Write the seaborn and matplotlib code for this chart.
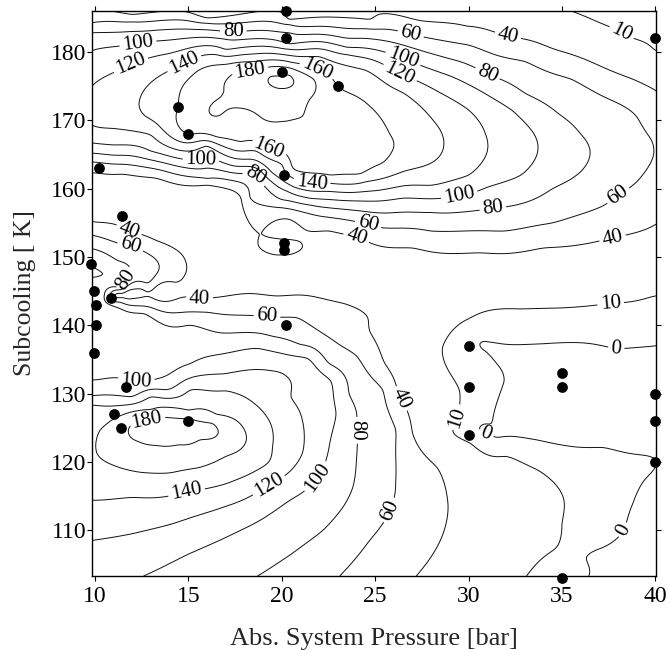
import numpy as np
import pandas as pd
import matplotlib
matplotlib.use("Agg")
import matplotlib.pyplot as plt
import seaborn as sns

# ---------------- measured operating points ----------------
pressure_pts = [20.2, 20.2, 40.0, 20.0, 23.0, 14.45, 15.0, 10.2, 20.1, 11.45,
                20.1, 20.1, 9.8, 9.95, 10.05, 10.85, 10.05, 20.2, 9.95, 30.0,
                35.0, 35.0, 30.0, 11.65, 40.0, 11.0, 40.0, 11.4, 15.0, 30.0,
                40.0, 35.0]
subcool_pts = [186, 182, 182, 177, 175, 172, 168, 163, 162, 156,
               152, 151, 149, 145, 143, 144, 140, 140, 136, 137,
               133, 131, 131, 131, 130, 127, 126, 125, 126, 124,
               120, 103]

# ---------------- iso-value traces (pressure, subcooling) ----------------
upper_200 = [(19.9, 176.5), (19.4, 176.4), (20.4, 176.6)]
upper_180 = [(16.9, 174.3), (17.4, 171.8), (19.0, 170.2), (20.3, 169.9), (21.1, 170.6),
             (21.5, 173.1), (21.7, 176.0), (20.8, 177.3), (19.0, 177.6), (17.7, 177.2)]
upper_160 = [(15.6, 177.4), (14.7, 175.0), (14.45, 172.0), (15.0, 168.0), (16.5, 167.6),
             (17.8, 166.9), (19.3, 165.8), (20.3, 164.8), (20.6, 163.0), (22.6, 162.0),
             (24.2, 162.2), (25.4, 163.8), (26.0, 166.3), (25.8, 167.9), (24.7, 172.1),
             (23.0, 175.0), (21.9, 177.5), (20.5, 178.5), (18.5, 178.6), (17.0, 178.2)]
upper_140 = [(16.5, 179.6), (14.8, 178.4), (13.3, 176.2), (12.4, 173.1), (12.7, 170.6),
             (13.6, 168.7), (16.0, 167.0), (18.6, 165.5), (20.0, 163.5), (20.8, 161.3),
             (22.5, 160.8), (24.5, 161.0), (26.5, 162.5), (28.6, 165.5), (28.1, 170.0),
             (26.5, 174.0), (24.5, 177.3), (22.0, 179.3), (19.0, 179.8)]
upper_120 = [(9.84, 175.0), (11.0, 177.0), (11.9, 178.2), (14.0, 179.8), (17.0, 180.4),
             (20.4, 180.4), (23.5, 179.6), (26.3, 176.8), (28.5, 174.0), (30.0, 171.5),
             (30.9, 168.0), (31.0, 165.5), (30.0, 162.0), (28.0, 160.5), (25.0, 159.7),
             (22.0, 159.6), (20.6, 160.3), (19.5, 162.3), (18.0, 164.3), (16.0, 166.2),
             (13.0, 167.8), (11.0, 168.8), (9.84, 169.3)]
upper_100 = [(9.84, 180.2), (12.3, 181.2), (13.3, 181.6), (16.9, 181.9), (20.4, 181.2),
             (23.5, 180.7), (26.5, 179.1), (29.0, 176.5), (30.5, 174.5), (32.3, 171.5),
             (33.5, 168.0), (33.7, 165.5), (32.8, 162.0), (31.0, 160.2), (29.5, 159.0),
             (26.5, 158.6), (24.0, 158.2), (21.5, 158.6), (20.3, 159.6), (19.0, 162.2),
             (17.5, 163.3), (15.7, 164.2), (13.0, 165.5), (11.0, 166.4), (9.84, 166.7)]
upper_80 = [(9.84, 182.8), (12.0, 183.0), (17.4, 183.0), (20.4, 182.8), (24.0, 182.0),
            (26.5, 181.0), (29.0, 179.0), (31.0, 176.8), (33.0, 174.0), (34.8, 171.0),
            (36.0, 168.0), (36.5, 165.5), (36.0, 162.5), (34.5, 160.0), (31.3, 157.1),
            (28.0, 156.5), (24.0, 156.8), (21.5, 157.6), (20.0, 158.4), (19.2, 160.0),
            (18.6, 161.9), (16.0, 163.0), (13.0, 164.2), (11.0, 164.9), (9.84, 165.2)]
upper_60 = [(9.84, 184.3), (12.0, 184.4), (16.0, 184.2), (20.4, 184.0), (24.5, 183.4),
            (26.9, 182.6), (30.0, 181.0), (33.0, 178.6), (35.5, 176.0), (37.2, 173.5),
            (39.0, 170.5), (39.8, 167.0), (39.9, 165.0), (39.0, 161.0), (38.0, 159.0),
            (37.2, 157.5), (34.5, 155.0), (31.9, 153.8), (28.0, 153.8), (25.3, 154.3),
            (22.0, 156.0), (20.0, 157.2), (18.3, 158.7), (16.0, 161.5), (13.0, 163.0),
            (11.0, 163.6), (9.84, 163.9)]
upper_40 = [(10.8, 186.0), (12.0, 185.5), (16.0, 185.0), (20.4, 184.8), (24.7, 184.8),
            (27.4, 184.6), (29.9, 183.8), (32.1, 182.3), (34.5, 180.5), (37.0, 178.0),
            (38.8, 176.0), (40.03, 174.3)]
band_40 = [(40.03, 154.8), (37.7, 152.8), (34.0, 151.3), (30.6, 150.6), (27.0, 151.3),
           (24.0, 152.9), (22.5, 153.8), (20.4, 155.5), (17.8, 158.7), (16.0, 160.5),
           (13.3, 161.5), (11.5, 162.1), (9.84, 162.3)]
top_10 = [(35.5, 186.0), (37.0, 184.3), (38.5, 182.3), (40.03, 180.2)]
eye_40 = [(18.8, 151.4), (21.1, 151.4), (20.0, 152.6), (20.0, 150.3)]

# left-edge tongue and the low band reaching into it
tongue_40 = [(9.84, 155.2), (11.8, 153.8), (13.3, 152.4), (14.6, 150.5), (14.9, 148.0),
             (14.3, 146.3), (12.5, 145.3), (11.2, 144.7), (11.1, 144.1), (12.0, 143.9),
             (15.6, 143.9), (19.7, 144.3), (23.3, 143.2), (24.6, 141.1), (24.7, 139.2),
             (25.5, 134.5), (26.2, 130.5), (27.0, 124.2), (28.3, 119.2), (28.9, 113.4),
             (28.3, 107.5), (27.2, 103.3)]
tongue_60 = [(9.84, 153.2), (11.9, 151.6), (13.0, 150.2), (13.4, 148.0), (12.8, 146.2),
             (11.3, 145.2), (10.8, 144.3), (11.3, 143.4), (13.0, 142.6), (16.0, 141.9),
             (19.2, 141.3), (20.8, 141.1), (22.2, 138.8), (24.0, 135.5), (25.4, 130.5),
             (26.1, 124.6), (26.1, 117.3), (25.8, 112.9), (24.7, 108.5), (23.1, 103.3)]
tongue_80 = [(9.84, 151.2), (11.2, 149.5), (11.8, 147.3), (11.3, 145.6), (10.5, 144.4),
             (10.9, 142.9), (12.6, 141.7), (15.1, 140.0), (16.7, 138.9), (19.5, 138.4),
             (21.0, 137.2), (22.5, 134.5), (23.6, 130.0), (24.0, 125.0), (24.0, 120.5),
             (23.8, 116.3), (23.3, 113.5), (22.2, 110.0), (20.5, 106.5), (18.7, 103.3)]

# lower hump
lower_180 = [(11.8, 124.8), (12.3, 123.0), (13.3, 122.4), (14.5, 122.5), (15.6, 123.2),
             (16.6, 124.3), (16.3, 125.6), (15.0, 126.3), (13.5, 126.5), (12.3, 126.1)]
lower_160 = [(10.1, 121.3), (11.0, 119.5), (12.4, 118.5), (14.0, 118.4), (15.6, 119.2),
             (17.0, 120.8), (18.1, 123.2), (17.8, 125.5), (16.5, 127.0), (15.0, 127.6),
             (13.0, 127.7), (11.8, 127.2), (10.6, 125.5), (10.1, 123.5)]
lower_140 = [(9.84, 114.4), (12.0, 114.8), (14.9, 115.6), (17.0, 116.8), (18.1, 118.0),
             (19.3, 120.0), (19.5, 122.1), (19.4, 125.6), (18.5, 128.6), (17.0, 130.4),
             (15.1, 130.5), (13.0, 129.5), (11.5, 128.3), (9.84, 128.3)]
lower_120 = [(9.84, 108.5), (12.0, 109.5), (14.2, 111.0), (17.0, 113.5), (19.3, 116.6),
             (20.5, 118.8), (21.1, 121.3), (21.1, 126.1), (20.5, 129.5), (19.9, 133.1),
             (16.9, 132.9), (13.9, 130.6), (12.0, 129.6), (9.84, 129.7)]
lower_100 = [(12.6, 103.3), (15.0, 106.5), (17.8, 110.0), (20.5, 114.5), (21.9, 117.7),
             (22.6, 123.2), (22.9, 127.1), (22.6, 131.9), (21.4, 135.1), (18.7, 136.6),
             (15.1, 134.4), (12.9, 131.9), (11.5, 132.2), (9.84, 132.0)]

# right-hand region of low values
right_10 = [(40.03, 144.3), (37.6, 143.2), (32.8, 142.4), (30.1, 141.1), (29.0, 138.8),
            (28.6, 136.7), (29.0, 133.0), (29.5, 130.5), (29.4, 126.5), (29.2, 124.2),
            (30.1, 122.7), (32.0, 120.8), (33.7, 118.8), (35.1, 114.4), (35.0, 111.0),
            (34.7, 107.5), (33.1, 103.3)]
right_0_upper = [(40.03, 137.0), (37.9, 136.6), (34.0, 137.3), (31.0, 137.6), (30.6, 137.3),
                 (30.9, 136.2), (31.5, 134.4), (31.9, 131.9), (31.6, 129.4), (31.2, 125.6),
                 (30.6, 124.6), (31.5, 123.6), (33.7, 123.2), (37.2, 122.1), (40.03, 120.2)]
right_0_lower = [(39.4, 117.3), (38.8, 114.0), (38.3, 110.0), (37.2, 107.5), (36.3, 106.0),
                 (35.0, 103.3)]

# single readings (pressure, subcooling, value) away from the iso-lines
spot_readings = [
    (19.0, 174.0, 190), (20.3, 173.0, 187), (19.9, 176.5, 206),
    (22.5, 166.0, 168), (22.5, 170.0, 172), (24.5, 166.0, 164), (20.4, 167.3, 170),
    (17.8, 169.2, 170), (23.5, 168.0, 170),
    (27.3, 165.5, 150), (29.8, 165.5, 130), (32.3, 165.5, 110), (35.1, 165.5, 90),
    (38.2, 165.5, 70),
    (13.8, 124.5, 190), (14.8, 124.4, 192),
    (9.84, 149.0, 98), (9.95, 145.0, 92), (10.05, 143.0, 90), (10.05, 140.0, 88),
    (9.95, 136.0, 92), (9.84, 172.0, 123), (9.84, 104.0, 108), (9.84, 121.5, 158),
    (11.8, 144.6, 32), (13.5, 145.2, 30), (16.0, 146.5, 28), (17.0, 150.0, 30),
    (22.0, 148.0, 30), (26.0, 146.0, 28), (20.0, 151.5, 46), (11.45, 156.0, 33),
    (20.0, 148.3, 30), (20.0, 154.3, 34), (17.5, 153.5, 33), (22.8, 151.5, 32),
    (9.84, 158.5, 32), (27.0, 138.0, 25), (30.0, 146.0, 22), (34.0, 147.0, 22),
    (40.03, 149.0, 25), (31.0, 110.0, 25), (30.5, 103.3, 25),
    (31.0, 117.0, 18), (33.0, 112.0, 17), (32.5, 106.0, 18),
    (33.6, 121.2, 5), (36.0, 119.5, 4), (38.3, 118.3, 2), (36.6, 111.0, 5),
    (37.3, 115.5, 4), (36.0, 107.8, 4), (35.8, 104.0, 3),
    (40.03, 140.0, 5), (35.0, 140.0, 5), (30.0, 137.0, 4),
    (35.0, 131.0, -10), (37.5, 129.0, -12), (40.03, 126.0, -8), (40.03, 130.0, -10),
    (33.0, 128.0, -8), (40.03, 106.0, -12), (38.5, 104.0, -6), (39.8, 112.0, -7),
    (15.0, 186.0, 37), (20.2, 186.0, 36), (25.0, 186.0, 36), (30.0, 186.0, 30),
    (33.0, 186.0, 20), (38.0, 186.0, 3), (40.03, 186.0, 0), (40.03, 182.0, 8),
    (40.03, 170.0, 50), (40.03, 165.0, 59), (40.03, 160.0, 50),
]

levels = [0, 10, 40, 60, 80, 100, 120, 140, 160, 180, 200]

label_spots = [
    (17.4, 183.0), (12.3, 181.2), (11.9, 178.2), (14.8, 178.2), (18.3, 177.2),
    (21.9, 177.5), (26.9, 182.6), (32.1, 182.3), (38.0, 181.9), (26.5, 179.1),
    (26.3, 176.8), (31.0, 176.8), (19.3, 165.8), (15.7, 164.0), (18.6, 161.9),
    (21.6, 160.7), (29.5, 159.0), (31.3, 157.1), (24.6, 154.6), (24.0, 152.9),
    (38.0, 159.0), (37.7, 152.8), (11.8, 153.8), (11.9, 151.6), (11.5, 147.0),
    (15.6, 143.9), (19.2, 141.1), (12.2, 132.4), (12.8, 125.0), (14.9, 115.6),
    (19.3, 116.6), (21.9, 117.7), (23.8, 124.6), (25.8, 112.9), (26.2, 129.0),
    (37.6, 143.2), (37.9, 136.6), (29.4, 126.5), (30.9, 123.9), (38.3, 110.0),
]

# ---------------- assemble samples ----------------
traces = [
    (200, upper_200), (180, upper_180), (160, upper_160), (140, upper_140),
    (120, upper_120), (100, upper_100), (80, upper_80), (60, upper_60),
    (40, upper_40), (40, band_40), (10, top_10), (40, eye_40),
    (40, tongue_40), (60, tongue_60), (80, tongue_80),
    (180, lower_180), (160, lower_160), (140, lower_140), (120, lower_120),
    (100, lower_100), (10, right_10), (0, right_0_upper), (0, right_0_lower),
]
rows = []
for val, pts in traces:
    for p, t in pts:
        rows.append((p, t, val))
rows.extend(spot_readings)
samples = pd.DataFrame(rows, columns=["pressure", "subcooling", "value"])
samples = samples.drop_duplicates(subset=["pressure", "subcooling"]).reset_index(drop=True)

P0, P1 = 9.84, 40.03
T0, T1 = 103.3, 186.0


def tps_kernel(r):
    with np.errstate(divide="ignore", invalid="ignore"):
        k = r * r * np.log(r)
    return np.where(r > 0, k, 0.0)


def tps_surface(px, py, pv, gx, gy, smooth=2e-6):
    u = (px - P0) / (P1 - P0)
    w = (py - T0) / (T1 - T0)
    n = len(u)
    d = np.hypot(u[:, None] - u[None, :], w[:, None] - w[None, :])
    A = np.zeros((n + 3, n + 3))
    A[:n, :n] = tps_kernel(d) + smooth * np.eye(n)
    Pm = np.column_stack([np.ones(n), u, w])
    A[:n, n:] = Pm
    A[n:, :n] = Pm.T
    b = np.concatenate([pv, np.zeros(3)])
    coef = np.linalg.solve(A, b)
    wts, aff = coef[:n], coef[n:]
    GX, GY = np.meshgrid(gx, gy)
    gu = ((GX - P0) / (P1 - P0)).ravel()
    gw = ((GY - T0) / (T1 - T0)).ravel()
    out = np.empty(gu.size)
    step = 20000
    for s in range(0, gu.size, step):
        du = gu[s:s + step, None] - u[None, :]
        dw = gw[s:s + step, None] - w[None, :]
        out[s:s + step] = (tps_kernel(np.hypot(du, dw)) @ wts + aff[0]
                           + aff[1] * gu[s:s + step] + aff[2] * gw[s:s + step])
    return GX, GY, out.reshape(GX.shape)


gx = np.linspace(P0, P1, 360)
gy = np.linspace(T0, T1, 360)
GX, GY, Z = tps_surface(samples["pressure"].to_numpy(), samples["subcooling"].to_numpy(),
                        samples["value"].to_numpy().astype(float), gx, gy)

# ---------------- drawing ----------------
sns.set_style("ticks")
plt.rcParams["font.family"] = ["Liberation Serif", "DejaVu Serif"]

fig = plt.figure(figsize=(6.69, 6.50), dpi=100)
ax = fig.add_axes([0.1375, 0.1138, 0.8431, 0.8693])

cs = ax.contour(GX, GY, Z, levels=levels, colors="#111111", linewidths=0.7)
ax.clabel(cs, fmt="%d", fontsize=15, inline=True, inline_spacing=3, manual=label_spots,
          colors="black")

pts = pd.DataFrame({"pressure": pressure_pts, "subcooling": subcool_pts})
sns.scatterplot(data=pts, x="pressure", y="subcooling", color="black", s=60,
                edgecolor="black", linewidth=0, ax=ax, zorder=6, clip_on=False, legend=False)

ax.set_xlim(P0, P1)
ax.set_ylim(T0, T1)
ax.set_xticks([10, 15, 20, 25, 30, 35, 40])
ax.set_yticks([110, 120, 130, 140, 150, 160, 170, 180])
ax.tick_params(direction="out", length=3.5, width=0.8, labelsize=17,
               top=True, right=True, colors="black")
ax.tick_params(axis="x", pad=3.5)
ax.tick_params(axis="y", pad=0.5)
for sp in ax.spines.values():
    sp.set_visible(True)
    sp.set_linewidth(1.0)
    sp.set_color("black")
ax.set_xlabel("Abs. System Pressure [bar]", fontsize=19, labelpad=15)
ax.set_ylabel("Subcooling [ K]", fontsize=18.5, labelpad=11)

fig.savefig("out.png", dpi=100)
